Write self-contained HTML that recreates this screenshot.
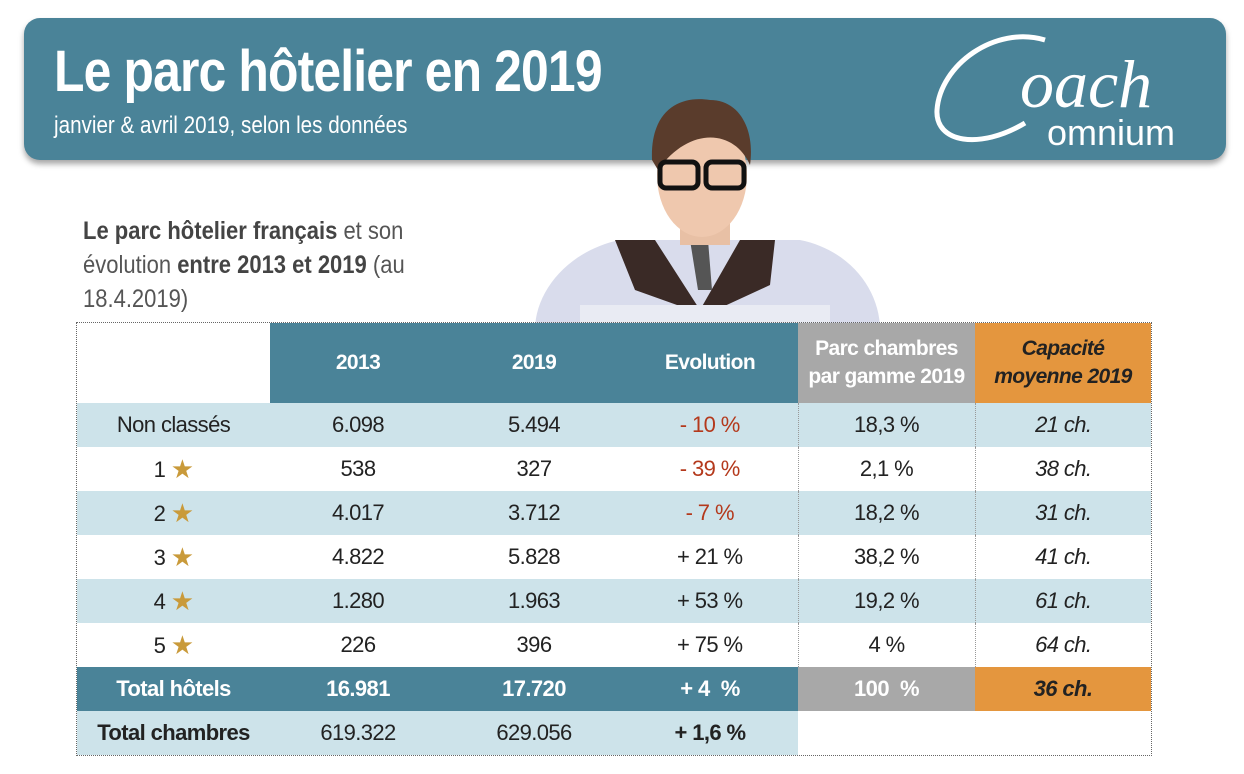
<!DOCTYPE html>
<html><head><meta charset="utf-8"><style>
*{margin:0;padding:0;box-sizing:border-box}
body{width:1244px;height:774px;background:#fff;position:relative;overflow:hidden;font-family:"Liberation Sans",sans-serif}
.banner{position:absolute;left:24px;top:18px;width:1202px;height:142px;background:#4a8398;border-radius:16px;box-shadow:0 4px 6px rgba(0,0,0,.35)}
.title{position:absolute;left:54px;top:38px;color:#fff;font-weight:bold;font-size:58px;transform:scaleX(.86);transform-origin:left top;white-space:nowrap;letter-spacing:-1px}
.sub{position:absolute;left:54px;top:112px;color:#fff;font-size:24px;transform:scaleX(.86);transform-origin:left top;white-space:nowrap}
.intro{position:absolute;left:83px;top:214px;color:#555;font-size:25px;line-height:34px;transform:scaleX(.88);transform-origin:left top;width:440px}
.intro b{color:#444}
table{position:absolute;left:77px;top:323px;border-collapse:collapse;outline:1px dotted #666}
td{height:44px;text-align:center;font-size:22px;color:#222;padding:0;letter-spacing:-.6px}
td.h{height:80px;color:#fff;font-weight:bold;font-size:21px;line-height:28px}
.bl{background:#4a8398}.gr{background:#a8a8a8}.or{background:#e4963e}
.lb{background:#cde3ea}
.red{color:#b4391c}
.st{color:#c99a3a;font-size:26px;vertical-align:-1px}
.tot td{color:#fff;font-weight:bold}
.c{border-left:1px dotted #999}
</style></head><body>
<div class="banner"></div>
<div class="title">Le parc hôtelier en 2019</div>
<div class="sub">janvier &amp; avril 2019, selon les données</div>
<svg style="position:absolute;left:925px;top:25px" width="280" height="135">
<path d="M120 15 C70 0 15 40 12 85 C10 118 55 125 100 98" fill="none" stroke="#fff" stroke-width="5"/>
<text x="95" y="82" fill="#fff" font-family="Liberation Serif,serif" font-style="italic" font-size="68">oach</text>
<text x="122" y="120" fill="#fff" font-family="Liberation Sans,sans-serif" font-size="36">omnium</text>
</svg>
<div class="intro"><b>Le parc hôtelier français</b> et son évolution <b>entre 2013 et 2019</b> (au 18.4.2019)</div>
<svg style="position:absolute;left:530px;top:90px" width="360" height="245">
<path d="M5 240 C5 200 40 160 90 150 L270 150 C320 160 350 200 350 240 Z" fill="#d9dcec"/>
<path d="M85 150 L125 150 L170 220 L210 150 L245 150 L240 195 L175 225 L105 200 Z" fill="#3a2a26"/>
<path d="M160 150 L178 150 L182 200 L168 200 Z" fill="#555"/>
<rect x="150" y="125" width="50" height="30" fill="#e8c0a5"/>
<ellipse cx="172" cy="85" rx="45" ry="62" fill="#efc8ae"/>
<path d="M122 70 C120 20 150 5 180 10 C210 10 225 40 220 75 C205 40 160 35 128 80 Z" fill="#5a3c2c"/>
<rect x="130" y="72" width="38" height="26" rx="6" fill="none" stroke="#111" stroke-width="5"/>
<rect x="176" y="72" width="38" height="26" rx="6" fill="none" stroke="#111" stroke-width="5"/>
<path d="M50 215 L300 215 L300 240 L50 240 Z" fill="#e9ebf3"/>
</svg>
<table>
<tr><td style="width:193px;background:#fff" class="h"></td><td class="h bl" style="width:176px">2013</td><td class="h bl" style="width:176px">2019</td><td class="h bl" style="width:176px">Evolution</td><td class="h gr" style="width:177px">Parc chambres<br>par gamme 2019</td><td class="h or" style="width:176px;color:#222;font-style:italic">Capacité<br>moyenne 2019</td></tr>
<tr class="lb"><td>Non classés</td><td>6.098</td><td>5.494</td><td class="red">- 10 %</td><td class="c">18,3 %</td><td class="c"><i>21 ch.</i></td></tr>
<tr><td>1 <span class="st">★</span></td><td>538</td><td>327</td><td class="red">- 39 %</td><td class="c">2,1 %</td><td class="c"><i>38 ch.</i></td></tr>
<tr class="lb"><td>2 <span class="st">★</span></td><td>4.017</td><td>3.712</td><td class="red">- 7 %</td><td class="c">18,2 %</td><td class="c"><i>31 ch.</i></td></tr>
<tr><td>3 <span class="st">★</span></td><td>4.822</td><td>5.828</td><td>+ 21 %</td><td class="c">38,2 %</td><td class="c"><i>41 ch.</i></td></tr>
<tr class="lb"><td>4 <span class="st">★</span></td><td>1.280</td><td>1.963</td><td>+ 53 %</td><td class="c">19,2 %</td><td class="c"><i>61 ch.</i></td></tr>
<tr><td>5 <span class="st">★</span></td><td>226</td><td>396</td><td>+ 75 %</td><td class="c">4 %</td><td class="c"><i>64 ch.</i></td></tr>
<tr class="tot"><td class="bl">Total hôtels</td><td class="bl">16.981</td><td class="bl">17.720</td><td class="bl">+ 4 &nbsp;%</td><td class="gr">100 &nbsp;%</td><td class="or" style="color:#222"><i>36 ch.</i></td></tr>
<tr><td class="lb"><b>Total chambres</b></td><td class="lb">619.322</td><td class="lb">629.056</td><td class="lb"><b>+ 1,6 %</b></td><td></td><td></td></tr>
</table>
</body></html>
